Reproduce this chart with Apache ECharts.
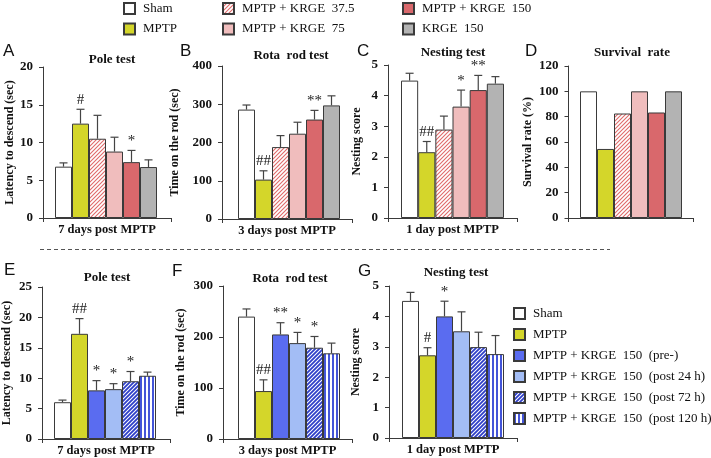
<!DOCTYPE html>
<html><head><meta charset="utf-8">
<script src="https://cdn.jsdelivr.net/npm/echarts@6/dist/echarts.min.js"></script>
<style>html,body{margin:0;padding:0;background:#fff}#c{width:711px;height:458px}</style>
</head><body><div id="c"></div><script>
const FONT = "'Liberation Serif','Times New Roman',serif";

// ---- groups / legend names ----
const topGroups = ['Sham', 'MPTP', 'MPTP + KRGE  37.5', 'MPTP + KRGE  75', 'MPTP + KRGE  150', 'KRGE  150'];
const bottomGroups = ['Sham', 'MPTP', 'MPTP + KRGE  150  (pre-)', 'MPTP + KRGE  150  (post 24 h)', 'MPTP + KRGE  150  (post 72 h)', 'MPTP + KRGE  150  (post 120 h)'];

// ---- panel A: pole test (7 days) ----
const poleA = [6.8, 12.5, 10.5, 8.8, 7.4, 6.75];
const poleAErr = [0.5, 1.9, 3.1, 1.9, 1.55, 0.95];
const poleAMarks = ['', '#', '', '', '*', ''];
// ---- panel B: rota rod (3 days) ----
const rotaB = [286, 103, 188, 223, 260, 297];
const rotaBErr = [12, 23, 30, 30, 24, 25];
const rotaBMarks = ['', '##', '', '', '**', ''];
// ---- panel C: nesting (1 day) ----
const nestC = [4.49, 2.15, 2.89, 3.64, 4.18, 4.39];
const nestCErr = [0.24, 0.35, 0.44, 0.54, 0.48, 0.23];
const nestCMarks = ['', '##', '', '*', '**', ''];
// ---- panel D: survival rate ----
const survD = [100, 54.5, 82.5, 100, 83.3, 100];
const survDErr = [0, 0, 0, 0, 0, 0];
const survDMarks = ['', '', '', '', '', ''];
// ---- panel E: pole test (7 days) ----
const poleE = [6.05, 17.3, 8.0, 8.2, 9.5, 10.4];
const poleEErr = [0.35, 2.5, 1.6, 0.9, 1.6, 0.6];
const poleEMarks = ['', '##', '*', '*', '*', ''];
// ---- panel F: rota rod (3 days) ----
const rotaF = [240, 94, 205, 188, 179, 168];
const rotaFErr = [15, 22, 23, 21, 22, 20];
const rotaFMarks = ['', '##', '**', '*', '*', ''];
// ---- panel G: nesting (1 day) ----
const nestG = [4.51, 2.72, 4.0, 3.51, 2.99, 2.76];
const nestGErr = [0.28, 0.25, 0.5, 0.64, 0.49, 0.61];
const nestGMarks = ['', '#', '*', '', '', ''];

// ---- axis texts ----
const panelLetters = ['A', 'B', 'C', 'D', 'E', 'F', 'G'];
const panelTitles = ['Pole test', 'Rota  rod test', 'Nesting test', 'Survival  rate', 'Pole test', 'Rota  rod test', 'Nesting test'];
const xLabels = ['7 days post MPTP', '3 days post MPTP', '1 day post MPTP', '', '7 days post MPTP', '3 days post MPTP', '1 day post MPTP'];
const yNames = ['Latency to descend (sec)', 'Time on the rod (sec)', 'Nesting score', 'Survival rate (%)', 'Latency to descend (sec)', 'Time on the rod (sec)', 'Nesting score'];
const yMax = [20, 400, 5, 120, 25, 300, 5];
const yStep = [5, 100, 1, 20, 5, 100, 1];

// ---- patterns ----
function diag(color, size, lw) {
  const c = document.createElement('canvas'); c.width = size; c.height = size;
  const ctx = c.getContext('2d');
  ctx.fillStyle = '#fff'; ctx.fillRect(0, 0, size, size);
  ctx.strokeStyle = color; ctx.lineWidth = lw;
  ctx.beginPath();
  ctx.moveTo(0, size); ctx.lineTo(size, 0);
  ctx.moveTo(-size / 2, size / 2); ctx.lineTo(size / 2, -size / 2);
  ctx.moveTo(size / 2, size * 1.5); ctx.lineTo(size * 1.5, size / 2);
  ctx.stroke();
  return { image: c, repeat: 'repeat' };
}
function vstripe(color, size, w) {
  const c = document.createElement('canvas'); c.width = size; c.height = size;
  const ctx = c.getContext('2d');
  ctx.fillStyle = '#fff'; ctx.fillRect(0, 0, size, size);
  ctx.fillStyle = color; ctx.fillRect(0, 0, w, size);
  return { image: c, repeat: 'repeat' };
}
const topColors = ['#ffffff', '#d4d62a', diag('#e06a6a', 4, 1.1), '#f0bdbd', '#d9686c', '#b3b3b3'];
const bottomColors = ['#ffffff', '#d4d62a', '#5a6cf0', '#a3bdf5', diag('#2f3fc8', 4, 1.8), vstripe('#4455d8', 4, 2)];

const panels = [
  { values: poleA, errors: poleAErr, marks: poleAMarks, names: topGroups, colors: topColors,
    L: { left: 43, width: 128, top: 67, height: 151, barLeft: 55, barWidth: 102, nameGap: 25, tx: 112, ty: 60, lx: 3, ly: 51 } },
  { values: rotaB, errors: rotaBErr, marks: rotaBMarks, names: topGroups, colors: topColors,
    L: { left: 222, width: 130, top: 66, height: 153, barLeft: 238, barWidth: 102, nameGap: 41, tx: 291, ty: 56, lx: 180, ly: 51 } },
  { values: nestC, errors: nestCErr, marks: nestCMarks, names: topGroups, colors: topColors,
    L: { left: 388, width: 129, top: 65, height: 153, barLeft: 401, barWidth: 103, nameGap: 25, tx: 453, ty: 53, lx: 357, ly: 51 } },
  { values: survD, errors: survDErr, marks: survDMarks, names: topGroups, colors: topColors,
    L: { left: 568.5, width: 125, top: 66, height: 152, barLeft: 580, barWidth: 102, nameGap: 35, tx: 632, ty: 53, lx: 525, ly: 51 } },
  { values: poleE, errors: poleEErr, marks: poleEMarks, names: bottomGroups, colors: bottomColors,
    L: { left: 42, width: 128, top: 287, height: 152, barLeft: 54, barWidth: 102, nameGap: 29, tx: 107, ty: 278, lx: 4, ly: 270 } },
  { values: rotaF, errors: rotaFErr, marks: rotaFMarks, names: bottomGroups, colors: bottomColors,
    L: { left: 223, width: 129, top: 286, height: 153, barLeft: 238, barWidth: 102, nameGap: 36, tx: 290, ty: 279, lx: 172, ly: 271 } },
  { values: nestG, errors: nestGErr, marks: nestGMarks, names: bottomGroups, colors: bottomColors,
    L: { left: 389, width: 128, top: 286, height: 152, barLeft: 402, barWidth: 102, nameGap: 27, tx: 456, ty: 273, lx: 358, ly: 271 } }
];

const grid = [], xAxis = [], yAxis = [], series = [], graphic = [];
const axisColor = '#3a3a3a';

panels.forEach((p, i) => {
  const L = p.L;
  const gA = 2 * i, gB = 2 * i + 1;
  grid.push({ left: L.left, top: L.top, width: L.width, height: L.height, containLabel: false });
  grid.push({ left: L.barLeft, top: L.top, width: L.barWidth, height: L.height, containLabel: false });
  xAxis.push({
    type: 'category', gridIndex: gA, data: [xLabels[i]], boundaryGap: true,
    axisLine: { show: true, lineStyle: { color: axisColor, width: 1 } },
    axisTick: { show: true, length: 4, lineStyle: { color: axisColor } },
    axisLabel: { fontFamily: FONT, fontWeight: 'bold', fontSize: 12.5, color: '#111', margin: 5 }
  });
  xAxis.push({ type: 'category', gridIndex: gB, data: p.values.map((_, k) => String(k)), show: false });
  yAxis.push({
    type: 'value', gridIndex: gA, min: 0, max: yMax[i], interval: yStep[i],
    axisLine: { show: true, lineStyle: { color: axisColor, width: 1 } },
    axisTick: { show: true, length: 4, lineStyle: { color: axisColor } },
    splitLine: { show: false },
    axisLabel: { fontFamily: FONT, fontWeight: 'bold', fontSize: 13, color: '#111', margin: 10 },
    name: yNames[i], nameLocation: 'middle', nameGap: L.nameGap,
    nameTextStyle: { fontFamily: FONT, fontWeight: 'bold', fontSize: 12, color: '#111' }
  });
  yAxis.push({ type: 'value', gridIndex: gB, min: 0, max: yMax[i], interval: yStep[i], show: false });

  p.names.forEach((nm, g) => {
    series.push({
      type: 'bar', name: nm, xAxisIndex: gB, yAxisIndex: gB,
      data: p.values.map((v, k) => (k === g ? v : null)),
      barWidth: '100%', barGap: '-100%',
      itemStyle: { color: p.colors[g], borderColor: axisColor, borderWidth: 1 },
      silent: true, animation: false
    });
  });

  const errs = p.errors, marks = p.marks;
  series.push({
    type: 'custom', xAxisIndex: gB, yAxisIndex: gB, z: 10, silent: true, animation: false,
    data: p.values.map((v, k) => [k, v, errs[k]]),
    renderItem: function (params, api) {
      const k = api.value(0), v = api.value(1), e = api.value(2);
      const p0 = api.coord([k, v]);
      const p1 = api.coord([k, v + e]);
      const ch = [];
      if (e > 0) {
        ch.push({ type: 'line', shape: { x1: p0[0], y1: p0[1], x2: p1[0], y2: p1[1] }, style: { stroke: '#444', lineWidth: 1.2 } });
        ch.push({ type: 'line', shape: { x1: p1[0] - 4, y1: p1[1], x2: p1[0] + 4, y2: p1[1] }, style: { stroke: '#444', lineWidth: 1.2 } });
      }
      const m = marks[params.dataIndex];
      if (m) {
        ch.push({ type: 'text', style: { text: m, x: p1[0], y: p1[1] - 2, align: 'center', verticalAlign: 'bottom', font: '15px ' + FONT, fill: '#222' } });
      }
      return { type: 'group', children: ch };
    }
  });

  graphic.push({ type: 'text', style: { text: panelTitles[i], x: L.tx, y: L.ty, align: 'center', verticalAlign: 'middle', font: 'bold 13px ' + FONT, fill: '#111' } });
  graphic.push({ type: 'text', style: { text: panelLetters[i], x: L.lx, y: L.ly, align: 'left', verticalAlign: 'middle', font: '17px "Liberation Sans", Arial, sans-serif', fill: '#111' } });
});

graphic.push({ type: 'line', shape: { x1: 40, y1: 249.5, x2: 610, y2: 249.5 }, style: { stroke: '#555', lineWidth: 1, lineDash: [4, 3] } });

const legendBase = {
  orient: 'vertical', itemWidth: 11, itemHeight: 11, padding: 0, selectedMode: false,
  icon: 'rect',
  textStyle: { fontFamily: FONT, fontSize: 13, color: '#111', padding: [0, 0, 0, 3] }
};
const legend = [
  Object.assign({}, legendBase, { left: 123, top: 2, itemGap: 7.5, data: topGroups.slice(0, 2) }),
  Object.assign({}, legendBase, { left: 222, top: 2, itemGap: 7.5, data: topGroups.slice(2, 4) }),
  Object.assign({}, legendBase, { left: 402, top: 2, itemGap: 7.5, data: topGroups.slice(4, 6) }),
  Object.assign({}, legendBase, { left: 513, top: 307, itemGap: 8, data: bottomGroups })
];

const chart = echarts.init(document.getElementById('c'), null, { renderer: 'canvas' });
chart.setOption({ animation: false, backgroundColor: '#fff', grid, xAxis, yAxis, series, legend, graphic });
</script></body></html>
